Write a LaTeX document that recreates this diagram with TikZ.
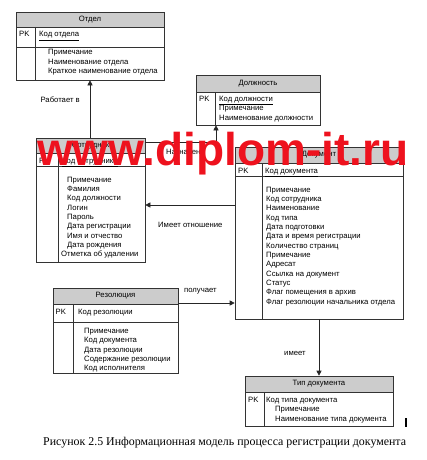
\documentclass[tikz,border=0pt]{standalone}
\usepackage{fontspec}
\setmainfont{Liberation Sans}
\newfontfamily\capfont{Liberation Serif}
\usepackage{tikz}
\usetikzlibrary{arrows.meta}
\tikzset{l/.style={font=\fontsize{7.7}{9.3}\selectfont}}
\tikzset{ent/.style={draw=black!80, line width=.6pt, inner sep=0pt, fill=white}}
\tikzset{hdr/.style={draw=black!80, line width=.6pt, fill=black!20, inner sep=0pt, anchor=north, l}}
\tikzset{fld/.style={anchor=base west, inner sep=0pt, l}}
\tikzset{sep/.style={draw=black!80, line width=.6pt}}
\tikzset{rel/.style={draw=black!85, line width=.6pt, -{Triangle[length=5pt,width=5pt]}}}

\begin{document}
\begin{tikzpicture}[x=1pt, y=-1pt]
    \useasboundingbox (0,0) rectangle (426,460);
    % Отдел
    \node[ent, minimum width=148pt, minimum height=68pt] (otdel) at (90,46) {};
    \node[hdr, minimum width=148pt, minimum height=15pt] (otdelH) at (otdel.north) {Отдел};
    \draw[sep] (16,47) -- (164,47);
    \draw[sep] (35,27) -- (35,80);
    \node[fld] (otdelPK) at (19,37) {PK};
    \node[fld] (otdelK) at (39,37) {\underline{Код отдела}};
    \foreach \t [count=\i from 0] in {Примечание, Наименование отдела, Краткое наименование отдела}
      \node[fld] (otdelF\i) at (48,55+9.4*\i) {\t};
    % Должность
    \node[ent, minimum width=124pt, minimum height=50pt] (dolzh) at (258,100) {};
    \node[hdr, minimum width=124pt, minimum height=17pt] (dolzhH) at (dolzh.north) {Должность};
    \draw[sep] (215,92) -- (215,125);
    \node[fld] (dolzhPK) at (199,101.5) {PK};
    \node[fld] (dolzhK) at (219,101.5) {\underline{Код должности}};
    \foreach \t [count=\i from 1] in {Примечание, Наименование должности}
      \node[fld] (dolzhF\i) at (219,101.5+9.3*\i) {\t};
    % Сотрудник
    \node[ent, minimum width=109pt, minimum height=124pt] (sotr) at (90.5,200) {};
    \node[hdr, minimum width=109pt, minimum height=15pt] (sotrH) at (sotr.north) {Сотрудник};
    \draw[sep] (36,166) -- (145,166);
    \draw[sep] (58,153) -- (58,262);
    \node[fld] (sotrPK) at (39,163) {PK};
    \node[fld] (sotrK) at (62,163) {\underline{Код сотрудника}};
    \foreach \t [count=\i from 0] in {Примечание, Фамилия, Код должности, Логин, Пароль, Дата регистрации, Имя и отчество, Дата рождения}
      \node[fld] (sotrF\i) at (67,182.3+9.3*\i) {\t};
    \node[fld] (sotrU) at (61,256.7) {Отметка об удалении};
    % Документ
    \node[ent, minimum width=168pt, minimum height=172pt] (doc) at (319,233) {};
    \node[hdr, minimum width=168pt, minimum height=16pt] (docH) at (doc.north) {Документ};
    \draw[sep] (235,176) -- (403,176);
    \draw[sep] (262,163) -- (262,319);
    \node[fld] (docPK) at (238,173.3) {PK};
    \node[fld] (docK) at (265,173.3) {\underline{Код документа}};
    \foreach \t [count=\i from 0] in {Примечание, Код сотрудника, Наименование, Код типа, Дата подготовки, Дата и время регистрации, Количество страниц, Примечание, Адресат, Ссылка на документ, Статус, Флаг помещения в архив, Флаг резолюции начальника отдела}
      \node[fld] (docF\i) at (266,192.3+9.33*\i) {\t};
    % Резолюция
    \node[ent, minimum width=125pt, minimum height=85pt] (rezol) at (115.5,330.5) {};
    \node[hdr, minimum width=125pt, minimum height=16pt] (rezolH) at (rezol.north) {Резолюция};
    \draw[sep] (53,322) -- (178,322);
    \draw[sep] (73,304) -- (73,373);
    \node[fld] (rezolPK) at (55.5,314.3) {PK};
    \node[fld] (rezolK) at (78,314.3) {Код резолюции};
    \foreach \t [count=\i from 0] in {Примечание, Код документа, Дата резолюции, Содержание резолюции, Код исполнителя}
      \node[fld] (rezolF\i) at (84,333.3+9.35*\i) {\t};
    % Тип документа
    \node[ent, minimum width=148pt, minimum height=50pt] (tip) at (319,401) {};
    \node[hdr, minimum width=148pt, minimum height=16pt] (tipH) at (tip.north) {Тип документа};
    \draw[sep] (264,392) -- (264,426);
    \node[fld] (tipPK) at (248,402.3) {PK};
    \node[fld] (tipK) at (266,402.3) {Код типа документа};
    \node[fld] (tipF1) at (275,411.7) {Примечание};
    \node[fld] (tipF2) at (275,421) {Наименование типа документа};
    % связи
    \draw[rel] (sotr.north -| otdel.south) -- (otdel.south);
    \node[fld, anchor=base east] (rabL) at (80,102) {Работает в};
    \coordinate (naz) at (216,142);
    \draw[rel] (sotr.east |- naz) -- (naz) -- (naz |- dolzh.south);
    \node[fld] (nazL) at (166,154.5) {Назначен};
    \coordinate (imo) at (190,205);
    \draw[rel] (doc.west |- imo) -- (sotr.east |- imo);
    \node[fld] (imoL) at (158,227) {Имеет отношение};
    \coordinate (pol) at (205,303);
    \draw[rel] (rezol.east |- pol) -- (doc.west |- pol);
    \node[fld] (polL) at (184,292.5) {получает};
    \draw[rel] (doc.south) -- (tip.north);
    \node[fld] (imeL) at (284,355) {имеет};
    \draw[line width=1.2pt] (406,418) -- (406,427);
    % подпись
    \node[anchor=base west, inner sep=0pt, font=\capfont\fontsize{11.9}{12}\selectfont] (cap) at (43,445) {Рисунок 2.5 Информационная модель процесса регистрации документа};
    % водяной знак
    \node[anchor=base west, inner sep=0pt, text={rgb,255:red,238;green,18;blue,30}, font=\bfseries\fontsize{46}{46}\selectfont] (wm) at (37,165) {www.diplom-it.ru};
\end{tikzpicture}
\end{document}
